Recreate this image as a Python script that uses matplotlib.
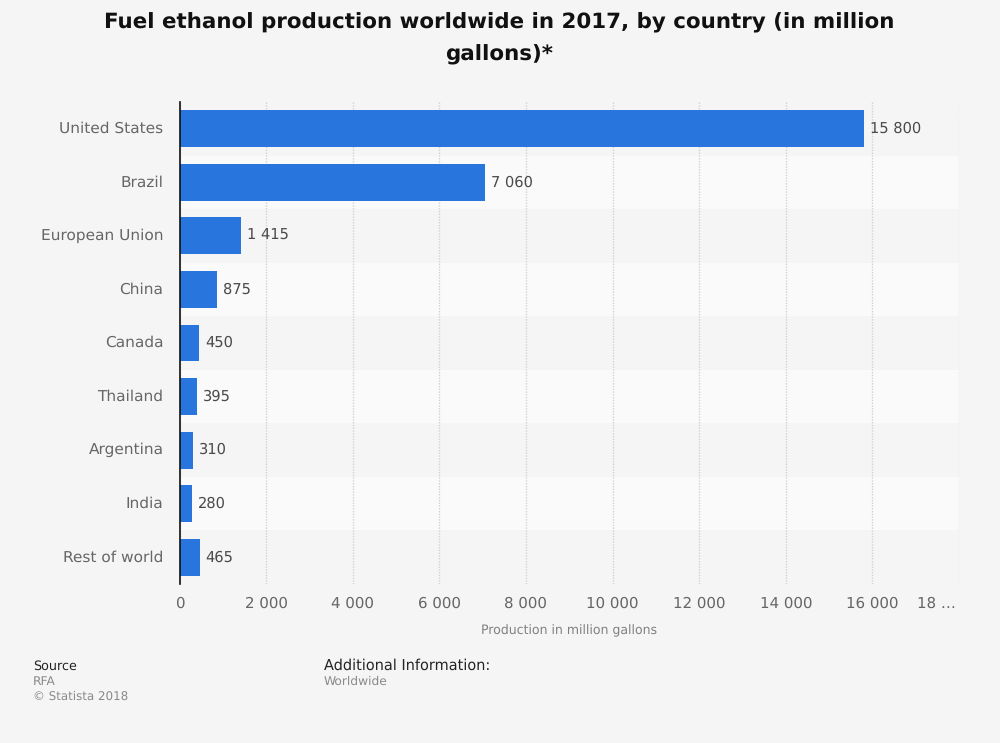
"""
Fuel ethanol production by country, horizontal bar chart.
"""

import matplotlib
matplotlib.use('Agg')
import matplotlib.pyplot as plt
from matplotlib.transforms import ScaledTranslation

countries = ['United States', 'Brazil', 'European Union', 'China', 'Canada',
             'Thailand', 'Argentina', 'India', 'Rest of world']
production = [15800, 7060, 1415, 875, 450, 395, 310, 280, 465]
value_labels = ['15 800', '7 060', '1 415', '875', '450', '395', '310', '280', '465']
x_ticks = [0, 2000, 4000, 6000, 8000, 10000, 12000, 14000, 16000, 18000]
x_tick_labels = ['0', '2 000', '4 000', '6 000', '8 000', '10 000', '12 000',
                 '14 000', '16 000', '18 …']

BG = '#f5f5f5'
BAND = '#fafafa'
BLUE = '#2875de'

plt.rcParams['font.family'] = 'DejaVu Sans'
plt.rcParams['text.hinting'] = 'no_hinting'

fig = plt.figure(figsize=(10, 7.43), dpi=100, facecolor=BG)
ax = fig.add_axes([0.1795, 1 - 584 / 743, 0.7795, 482 / 743], facecolor=BG)

positions = list(range(len(countries)))

# Alternating row bands
for i in positions:
    if i % 2 == 1:
        ax.axhspan(i - 0.5, i + 0.5, color=BAND, lw=0, zorder=0)

ax.set_axisbelow(True)
ax.grid(axis='x', color='#d2d2d2', linestyle=(0, (1, 1)), linewidth=1, zorder=1)

ax.barh(positions, production, height=0.69, color=BLUE, edgecolor='none', zorder=2)

for i, (val, label) in enumerate(zip(production, value_labels)):
    ax.annotate(label, (val, i), xytext=(4.2, 0), textcoords='offset points',
                va='center', ha='left', fontsize=10.5, color='#4a4a4a', zorder=3)

ax.set_xlim(0, 18000)
ax.set_ylim(len(countries) - 0.5, -0.5)

ax.set_yticks(positions)
ax.set_yticklabels(countries, fontsize=11.05, color='#666666')
ax.set_xticks(x_ticks)
ax.set_xticklabels(x_tick_labels, fontsize=10.8, color='#666666')
ax.tick_params(axis='y', length=0, pad=11.5)
ax.tick_params(axis='x', length=0, pad=9)

# Row labels sit a little above the bar centre
for lab in ax.get_yticklabels():
    lab.set_transform(lab.get_transform() + ScaledTranslation(0, 1.5 / 100, fig.dpi_scale_trans))

# Last tick label was cut short and sits left of its gridline
last = ax.get_xticklabels()[-1]
last.set_transform(last.get_transform() + ScaledTranslation(-23 / 100, 0, fig.dpi_scale_trans))

for side in ['top', 'right', 'bottom']:
    ax.spines[side].set_visible(False)
ax.spines['left'].set_color('#111111')
ax.spines['left'].set_linewidth(1.2)

ax.set_xlabel('Production in million gallons', fontsize=9.0, color='#808080', labelpad=9.5)

fig.text(0.499, 1 - 23 / 743, 'Fuel ethanol production worldwide in 2017, by country (in million',
         ha='center', va='center', fontsize=15.4, fontweight='bold', color='#111111')
fig.text(0.499, 1 - 55 / 743, 'gallons)*',
         ha='center', va='center', fontsize=15.4, fontweight='bold', color='#111111')

# Footer
fig.text(0.033, 1 - 666 / 743, 'Source', ha='left', va='center', fontsize=9.2, color='#222222')
fig.text(0.033, 1 - 682 / 743, 'RFA', ha='left', va='center', fontsize=8.8, color='#8a8a8a')
fig.text(0.033, 1 - 697 / 743, '© Statista 2018', ha='left', va='center', fontsize=8.55, color='#8a8a8a')
fig.text(0.324, 1 - 666 / 743, 'Additional Information:', ha='left', va='center',
         fontsize=10.45, color='#222222')
fig.text(0.324, 1 - 682 / 743, 'Worldwide', ha='left', va='center', fontsize=8.8, color='#8a8a8a')

fig.savefig('out.png', dpi=100, facecolor=BG)
